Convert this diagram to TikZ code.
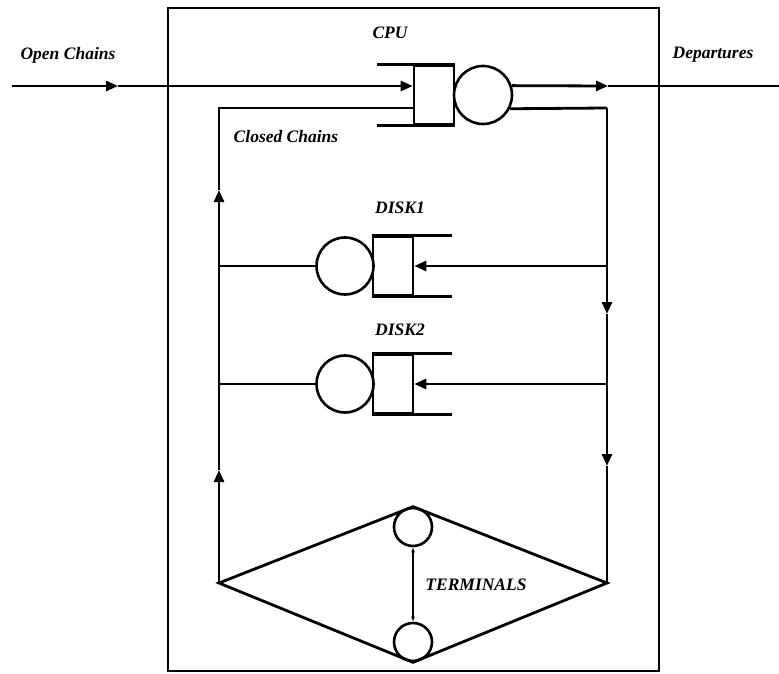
\documentclass[tikz,border=0pt]{standalone}
\usepackage{fontspec}
\setmainfont{Liberation Serif}
\usetikzlibrary{arrows.meta,calc}

\tikzset{
    wire/.style={line width=2.8pt},
    flow/.style={wire, -{Triangle[length=12pt,width=10pt]}},
    srv/.style={circle, draw, line width=2.6pt, inner sep=0pt, minimum size=#1},
    srv/.default=57pt,
    buf/.style={rectangle, draw, line width=2.6pt, inner sep=0pt,
        minimum width=40pt, minimum height=58pt},
    lbl/.style={font=\fontsize{17.5}{20}\selectfont\bfseries\itshape, inner sep=0pt}
}

\begin{document}
\begin{tikzpicture}[x=1pt,y=-1pt]
    \useasboundingbox (0,0) rectangle (779,674);

    % system boundary
    \draw[wire] (168,8) rectangle (659,671);

    \coordinate (in)   at (12,86);
    \coordinate (ina)  at (118,86);
    \coordinate (out)  at (779,86);
    \coordinate (outa) at (608,86);
    \coordinate (TL) at (219,108);
    \coordinate (TR) at (607,108);
    \coordinate (L1) at (219,266);
    \coordinate (R1) at (607,266);
    \coordinate (L2) at (219,384);
    \coordinate (R2) at (607,384);
    \coordinate (LA) at (219,190);
    \coordinate (LB) at (219,470);
    \coordinate (RA) at (607,314);
    \coordinate (RB) at (607,466);
    \coordinate (DL) at (219,583);
    \coordinate (DR) at (607,583);

    % CPU
    \node[buf] (cpuq) at (434,95) {};
    \node[srv=58pt] (cpus) at (483,95) {};
    \draw[wire] ($(cpuq.north east)+(-78,0)$) -- (cpuq.north east);
    \draw[wire] ($(cpuq.south east)+(-78,0)$) -- (cpuq.south east);

    % DISK1
    \node[buf] (d1q) at (393,266) {};
    \node[srv] (d1s) at (345,266) {};
    \draw[wire] (d1q.north west) -- ++(80,0);
    \draw[wire] (d1q.south west) -- ++(80,0);

    % DISK2
    \node[buf] (d2q) at (393,384) {};
    \node[srv] (d2s) at (345,384) {};
    \draw[wire] (d2q.north west) -- ++(80,0);
    \draw[wire] (d2q.south west) -- ++(80,0);

    % TERMINALS
    \node[srv=38pt] (t1) at (413,527) {};
    \node[srv=38pt] (t2) at (413,642) {};
    \draw[wire] (DL) -- (t1.north) -- (DR) -- (t2.south) -- cycle;
    \draw[line width=1.2pt, {Latex[length=5pt,width=4pt]}-{Latex[length=5pt,width=4pt]}]
        (t1.south) -- (t2.north);

    % open chain
    \draw[flow] (in) -- (ina);
    \draw[flow] (ina) -- (cpuq.west |- in);
    \draw[flow] (cpus.18) -- (outa);
    \draw[wire] (outa) -- (out);

    % closed chain
    \draw[wire] (cpus.-27) -- (TR);
    \draw[flow] (TR) -- (RA);
    \draw[flow] (RA) -- (RB);
    \draw[wire] (RB) -- (DR);
    \draw[flow] (DL) -- (LB);
    \draw[flow] (LB) -- (LA);
    \draw[wire] (LA) -- (TL) -- (cpuq.west |- TL);

    \draw[flow] (R1) -- (d1q.east);
    \draw[flow] (R2) -- (d2q.east);
    \draw[wire] (L1) -- (d1s.west);
    \draw[wire] (L2) -- (d2s.west);

    \node[lbl] (lcpu) at (390,33) {CPU};
    \node[lbl] (lopen) at (68,55) {Open Chains};
    \node[lbl] (ldep) at (713,55) {Departures};
    \node[lbl] (lclosed) at (286,137) {Closed Chains};
    \node[lbl] (ld1) at (400,208) {DISK1};
    \node[lbl] (ld2) at (400,330) {DISK2};
    \node[lbl] (lterm) at (476,585) {TERMINALS};
\end{tikzpicture}
\end{document}
